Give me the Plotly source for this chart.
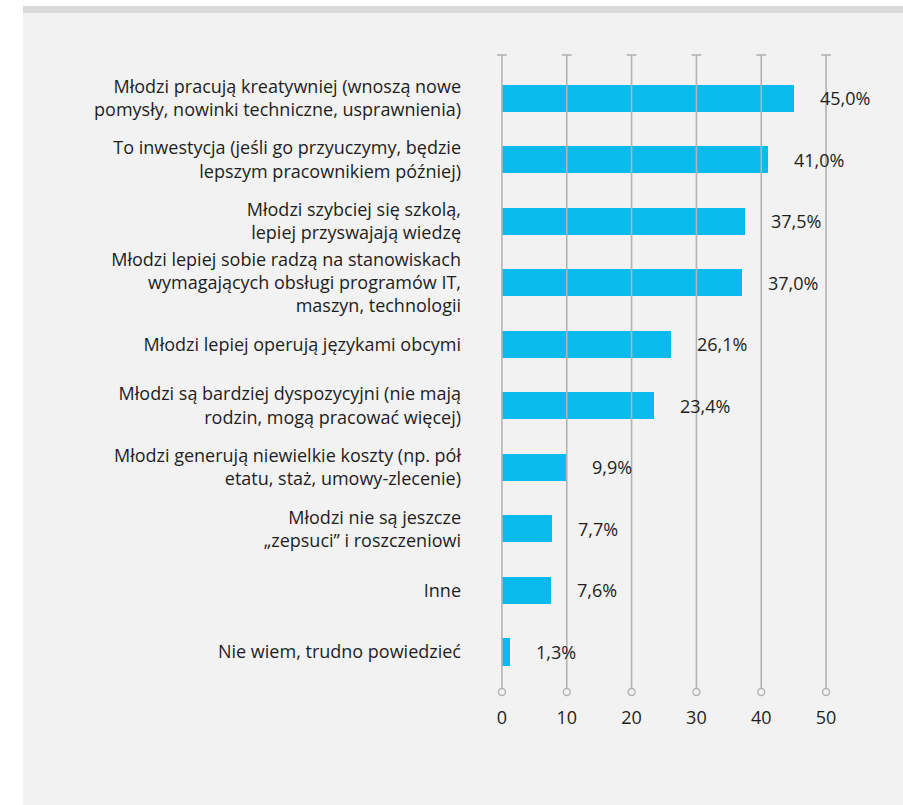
import plotly.graph_objects as go

# Reasons for hiring young people, share of answers (%)
CATEGORIES = [
    "Młodzi pracują kreatywniej (wnoszą nowe<br>pomysły, nowinki techniczne, usprawnienia)",
    "To inwestycja (jeśli go przyuczymy, będzie<br>lepszym pracownikiem później)",
    "Młodzi szybciej się szkolą,<br>lepiej przyswajają wiedzę",
    "Młodzi lepiej sobie radzą na stanowiskach<br>wymagających obsługi programów IT,<br>maszyn, technologii",
    "Młodzi lepiej operują językami obcymi",
    "Młodzi są bardziej dyspozycyjni (nie mają<br>rodzin, mogą pracować więcej)",
    "Młodzi generują niewielkie koszty (np. pół<br>etatu, staż, umowy-zlecenie)",
    "Młodzi nie są jeszcze<br>„zepsuci” i roszczeniowi",
    "Inne",
    "Nie wiem, trudno powiedzieć",
]
VALUES = [45.0, 41.0, 37.5, 37.0, 26.1, 23.4, 9.9, 7.7, 7.6, 1.3]
X_TICKS = [0, 10, 20, 30, 40, 50]

BAR_COLOR = "#0BBBEE"
PANEL = "#F2F2F2"
STRIP = "#D9D9D9"
GRID = "#B3B3B3"
INK = "#1E1E1E"
FONT = "Open Sans"
FS = 18

W, H = 903, 805
M_L, M_R, M_T, M_B = 500, 75, 55, 113
Y_TOP, Y_BOT = -0.70, 9.65

positions = list(range(len(VALUES)))
labels = [f"{v:.1f}".replace(".", ",") + "%" for v in VALUES]

fig = go.Figure()

# vertical rules with a cap on top and a small circle at the bottom
gx, gy = [], []
for t in X_TICKS:
    gx += [t, t, None]
    gy += [Y_TOP, Y_BOT, None]
fig.add_trace(go.Scatter(
    x=gx, y=gy, mode="lines", line=dict(color=GRID, width=1.6),
    cliponaxis=False, hoverinfo="skip", showlegend=False,
))
fig.add_trace(go.Scatter(
    x=X_TICKS, y=[Y_TOP] * len(X_TICKS), mode="markers",
    marker=dict(symbol="line-ew", size=7, line=dict(color=GRID, width=1.6)),
    cliponaxis=False, hoverinfo="skip", showlegend=False,
))
fig.add_trace(go.Scatter(
    x=X_TICKS, y=[Y_BOT] * len(X_TICKS), mode="markers",
    marker=dict(symbol="circle", size=7, color=PANEL, line=dict(color=GRID, width=1.4)),
    cliponaxis=False, hoverinfo="skip", showlegend=False,
))

fig.add_trace(go.Bar(
    x=VALUES, y=positions, orientation="h", width=0.44,
    marker=dict(color=BAR_COLOR, line=dict(width=0)),
    hovertemplate="%{x:.1f}%<extra></extra>", showlegend=False,
))

for v, p, lab in zip(VALUES, positions, labels):
    fig.add_annotation(
        x=v, y=p, text=lab, showarrow=False, xanchor="left", xshift=24,
        font=dict(family=FONT, size=FS, color=INK),
    )

# page framing: white left margin, white top line, grey strip
pw = W - M_L - M_R
ph = H - M_T - M_B


def px_x(p):
    return (p - M_L) / pw


def px_y(p):
    return (H - M_B - p) / ph


fig.add_shape(type="rect", xref="paper", yref="paper", layer="below",
              x0=px_x(0), x1=px_x(23), y0=px_y(H), y1=px_y(0),
              fillcolor="white", line=dict(width=0))
fig.add_shape(type="rect", xref="paper", yref="paper", layer="below",
              x0=px_x(0), x1=px_x(W), y0=px_y(6), y1=px_y(0),
              fillcolor="white", line=dict(width=0))
fig.add_shape(type="rect", xref="paper", yref="paper", layer="below",
              x0=px_x(23), x1=px_x(W), y0=px_y(13), y1=px_y(6),
              fillcolor=STRIP, line=dict(width=0))

fig.update_layout(
    width=W, height=H,
    margin=dict(l=M_L, r=M_R, t=M_T, b=M_B, pad=0),
    paper_bgcolor=PANEL, plot_bgcolor=PANEL,
    font=dict(family=FONT, size=FS, color=INK),
    bargap=0,
    xaxis=dict(
        range=[-0.3, 50.3], tickvals=X_TICKS, showgrid=False, zeroline=False,
        showline=False, ticks="", ticklabelstandoff=13,
        tickfont=dict(family=FONT, size=FS, color=INK), fixedrange=True,
    ),
    yaxis=dict(
        range=[Y_BOT, Y_TOP], tickvals=positions, ticktext=CATEGORIES,
        showgrid=False, zeroline=False, showline=False, ticks="",
        ticklabelstandoff=38, tickfont=dict(family=FONT, size=FS, color=INK),
        fixedrange=True,
    ),
)

fig.write_html(
    "out.html",
    config={"displayModeBar": False},
    post_script="document.body.style.margin='0';",
)
